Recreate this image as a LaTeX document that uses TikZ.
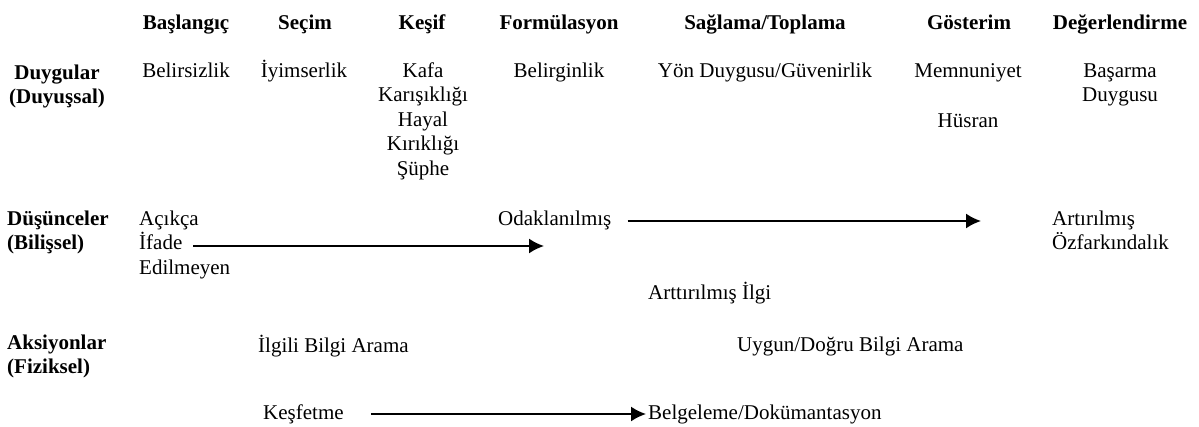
\documentclass[tikz,border=0pt]{standalone}
\usepackage{fontspec}
\setmainfont{Liberation Serif}
\usetikzlibrary{arrows.meta}
\newcommand{\yazi}{\fontsize{21}{24.5}\selectfont}
\tikzset{
  faz/.style={font=\yazi\bfseries, anchor=base, inner sep=0},
  ic/.style={anchor=base, inner sep=0, align=center},
  sol/.style={anchor=base west, inner sep=0, align=left},
  ok/.style={line width=1.8pt, -{Latex[length=15pt,width=15pt]}}
}
\begin{document}
\begin{tikzpicture}[x=1pt, y=-1pt, font=\yazi]
\useasboundingbox (0,0) rectangle (1199,426);
% asamalar
\node[faz] (bas) at (186,29) {Başlangıç};
\node[faz] (secim) at (305,29) {Seçim};
\node[faz] (kesif) at (422,29) {Keşif};
\node[faz] (form) at (559,29) {Formülasyon};
\node[faz] (sagla) at (765,29) {Sağlama/Toplama};
\node[faz] (goster) at (969,29) {Gösterim};
\node[faz] (deger) at (1120,29) {Değerlendirme};
% duygular (cok satirli dugumlerde base = son satir)
\node[faz, align=center] (duygu) at (57,103.5) {Duygular\\(Duyuşsal)};
\node[ic] (belirsiz) at (186,77) {Belirsizlik};
\node[ic] (iyimser) at (304,77) {İyimserlik};
\node[ic] (kafa) at (423,175) {Kafa\\Karışıklığı\\Hayal\\Kırıklığı\\Şüphe};
\node[ic] (belirgin) at (559,77) {Belirginlik};
\node[ic] (yon) at (765,77) {Yön Duygusu/Güvenirlik};
\node[ic] (memnun) at (968,77) {Memnuniyet};
\node[ic] (husran) at (968,127) {Hüsran};
\node[ic] (basarma) at (1120,101.5) {Başarma\\Duygusu};
% dusunceler
\node[faz, sol] (dusunce) at (7,249.5) {Düşünceler\\(Bilişsel)};
\node[sol] (acik) at (139,274) {Açıkça\\İfade\\Edilmeyen};
\node[sol] (odak) at (498,225) {Odaklanılmış};
\node[sol] (artir) at (1052,249.5) {Artırılmış\\Özfarkındalık};
\node[sol] (ilgi) at (648,299) {Arttırılmış İlgi};
\coordinate (ifadeuc) at (193,246);
\coordinate (odakuc) at (544,246);
\coordinate (farkuc) at (981,221);
\draw[ok] (ifadeuc) -- (odakuc);
\draw[ok] ([xshift=16pt,yshift=4pt]odak.base east) -- (farkuc);
% aksiyonlar
\node[faz, sol] (aksiyon) at (7,373.5) {Aksiyonlar\\(Fiziksel)};
\node[sol] (ilgili) at (258,352) {İlgili Bilgi Arama};
\node[sol] (uygun) at (737,351) {Uygun/Doğru Bilgi Arama};
\node[sol] (kesfet) at (263,419) {Keşfetme};
\node[sol] (belge) at (648,419) {Belgeleme/Dokümantasyon};
\draw[ok] ([xshift=27pt,yshift=5pt]kesfet.base east) -- ([xshift=-2pt,yshift=5pt]belge.base west);
\end{tikzpicture}
\end{document}
